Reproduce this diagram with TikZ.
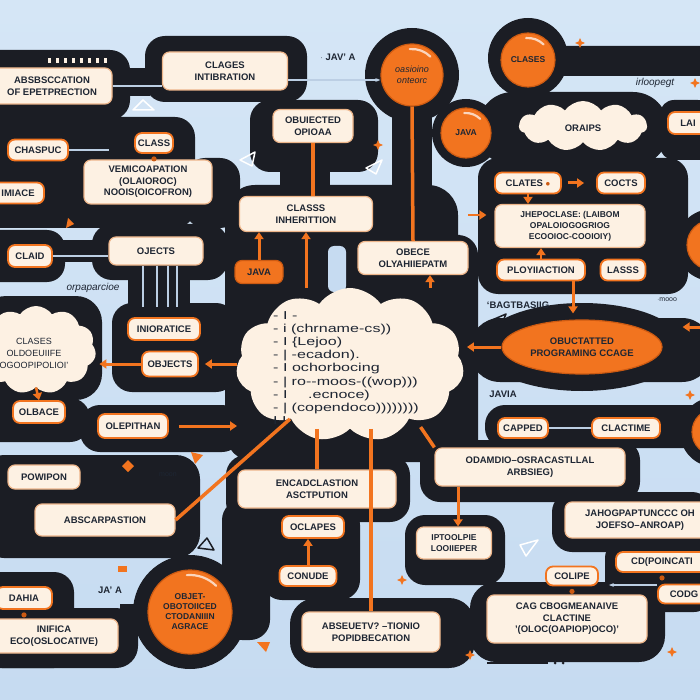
\documentclass[tikz,border=0pt]{standalone}
\usepackage{fontspec}
\setsansfont{Liberation Sans}
\usepackage{xcolor}
\usetikzlibrary{positioning, arrows.meta, shapes.symbols, shapes.geometric, backgrounds}
\definecolor{sky}{HTML}{C6DBF1}
\definecolor{skytop}{HTML}{D5E6F6}
\definecolor{ink}{HTML}{1B1D24}
\definecolor{cream}{HTML}{FDF1E3}
\definecolor{peach}{HTML}{EDB58A}
\definecolor{accent}{HTML}{F2741F}
\definecolor{accentdark}{HTML}{CC5A12}
\definecolor{textink}{HTML}{1E2633}
\definecolor{wire}{HTML}{BCCFE4}
\newcommand{\sparkle}[2]{%
  \fill[accent] (#1,#2) ++(0,-5) -- ++(1.5,3.5) -- ++(3.5,1.5) -- ++(-3.5,1.5)
    -- ++(-1.5,3.5) -- ++(-1.5,-3.5) -- ++(-3.5,-1.5) -- ++(3.5,-1.5) -- cycle;%
}

\begin{document}
\begin{tikzpicture}[
  x=1pt, y=-1pt,
  box/.style={rectangle, rounded corners=7pt, fill=cream, draw=peach, line width=1.2pt, align=center, text=textink, font=\sffamily\bfseries\fontsize{9.5}{11.5}\selectfont, inner sep=1pt},
  tag/.style={box, draw=accent, line width=1.8pt},
  jtag/.style={box, fill=accent, draw=accentdark},
  bubble/.style={circle, fill=accent, draw=accentdark, line width=1.2pt, align=center, text=textink, font=\sffamily\bfseries\fontsize{8.5}{10}\selectfont, inner sep=0pt},
  puff/.style={cloud, cloud puffs=11, cloud puff arc=110, fill=cream, draw=none, inner sep=0pt},
  pad/.style={fill=ink, rounded corners=20pt},
  link/.style={-{Triangle[length=7pt, width=9pt]}, line width=3pt, accent},
  oline/.style={line width=3.5pt, accent},
  wirelink/.style={line width=1.5pt, wire},
  lbl/.style={text=textink, font=\sffamily\bfseries\fontsize{9.5}{12}\selectfont}
]
\useasboundingbox (0,0) rectangle (700,700);
\shade[top color=skytop, bottom color=sky] (0,0) rectangle (700,700);

% ===== Dark channels =====
\fill[pad] (-20,50) rectangle (130,120);
\fill[ink] (125,68) rectangle (150,96);
\fill[pad] (145,36) rectangle (307,102);
\fill[pad] (-20,117) rectangle (195,228);
\fill[pad] (185,158) rectangle (240,228);
\fill[pad] (250,100) rectangle (378,172);
\fill[ink] (280,165) rectangle (330,190);
\fill[ink] (412,75) circle (47);
\fill[ink] (392,100) rectangle (432,200);
\fill[ink] (528,58) circle (40);
\fill[pad, rounded corners=12pt] (528,46) rectangle (712,76);
\fill[pad, rounded corners=35pt] (478,92) rectangle (668,166);
\fill[ink] (466,133) circle (34);
\fill[pad, rounded corners=14pt] (660,100) rectangle (712,160);
\fill[pad, rounded corners=30pt] (225,185) rectangle (458,462);
\fill[pad] (440,235) rectangle (478,462);
\fill[sky, rounded corners=6pt] (328,246) rectangle (346,292);
\fill[pad] (478,158) rectangle (688,294);
\fill[ink] (712,245) circle (36);
\fill[pad, rounded corners=30pt] (470,318) rectangle (712,382);
\fill[ink] (582,347) ellipse (102 and 44);
\fill[ink] (715,432) circle (35);
\fill[pad] (485,405) rectangle (712,448);
\fill[pad] (420,440) rectangle (640,502);
\fill[pad] (552,492) rectangle (712,552);
\fill[pad, rounded corners=18pt] (605,540) rectangle (712,612);
\fill[pad, rounded corners=26pt] (470,582) rectangle (665,662);
\fill[pad] (405,515) rectangle (505,585);
\fill[pad, rounded corners=26pt] (290,598) rectangle (475,668);
\fill[pad] (262,505) rectangle (360,600);
\fill[pad] (226,455) rectangle (410,522);
\fill[pad] (222,500) rectangle (270,640);
\fill[pad, rounded corners=18pt] (-20,230) rectangle (65,282);
\fill[ink] (60,240) rectangle (95,262);
\fill[pad] (92,224) rectangle (228,280);
\fill[ink] (128,270) rectangle (190,310);
\fill[pad, rounded corners=26pt] (-20,296) rectangle (102,400);
\fill[pad] (112,303) rectangle (236,392);
\fill[pad] (-20,398) rectangle (90,442);
\fill[pad] (80,405) rectangle (242,452);
\fill[pad, rounded corners=24pt] (-20,455) rectangle (200,558);
\fill[pad, rounded corners=20pt] (-20,572) rectangle (74,668);
\fill[pad, rounded corners=22pt] (-20,608) rectangle (138,668);
\fill[ink] (190,612) circle (57);
\fill[ink] (120,604) rectangle (150,634);

% ===== Clouds =====
\node[puff, aspect=1.5, minimum width=228pt, minimum height=154pt] (ccloud) at (350,365) {};
\node[puff, aspect=2.5, minimum width=128pt, minimum height=50pt] (orcloud) at (583,126) {};
\node[puff, aspect=1.3, minimum width=120pt, minimum height=88pt] (lcloud) at (36,350) {};
\node[lbl, align=left, transform shape, xscale=1.4, font=\sffamily\fontsize{11.5}{13.1}\selectfont] (code) at (346,368)
  {- I -\\- i (chrname-cs))\\- I \{Lejoo)\\- \textbar\ -ecadon).\\- I ochorbocing\\- \textbar\ ro-{}-moos-((wop)))\\- I \quad .ecnoce)\\- \textbar\ (copendoco))))))))\\I I};
\node[lbl] (oraips) at (583,128) {ORAIPS};
\node[lbl, align=center, font=\sffamily\fontsize{9}{12}\selectfont] (lclases) at (34,353) {CLASES\\OLDOEUIIFE\\OGOOPIPOLIOI'};

% ===== Boxes =====
\node[box, minimum width=120pt, minimum height=36pt] (abs) at (52,86) {ABSBSCCATION\\OF EPETPRECTION};
\node[box, minimum width=125pt, minimum height=38pt] (clint) at (225,71) {CLAGES\\INTIBRATION};
\node[box, minimum width=80pt, minimum height=33pt] (objd) at (313,126) {OBUIECTED\\OPIOAA};
\node[tag, minimum width=60pt, minimum height=21pt] (chaspuc) at (38,150) {CHASPUC};
\node[tag, minimum width=38pt, minimum height=20pt] (class) at (154,143) {CLASS};
\node[box, minimum width=128pt, minimum height=44pt] (vemi) at (148,182) {VEMICOAPATION\\(OLAIOROC)\\NOOIS(OICOFRON)};
\node[tag, minimum width=52pt, minimum height=21pt] (imiace) at (18,193) {IMIACE};
\node[tag, minimum width=44pt, minimum height=22pt] (claid) at (30,256) {CLAID};
\node[box, minimum width=94pt, minimum height=28pt] (objs1) at (156,251) {OJECTS};
\node[tag, minimum width=72pt, minimum height=22pt] (inio) at (164,329) {INIORATICE};
\node[tag, minimum width=56pt, minimum height=25pt] (objs2) at (170,364) {OBJECTS};
\node[tag, minimum width=52pt, minimum height=22pt] (olbace) at (39,412) {OLBACE};
\node[tag, minimum width=70pt, minimum height=24pt] (olep) at (133,426) {OLEPITHAN};
\node[box, minimum width=72pt, minimum height=24pt] (powi) at (44,477) {POWIPON};
\node[box, minimum width=140pt, minimum height=32pt] (abscar) at (105,520) {ABSCARPASTION};
\node[tag, minimum width=56pt, minimum height=22pt] (dahia) at (24,598) {DAHIA};
\node[box, minimum width=128pt, minimum height=34pt] (inifica) at (54,636) {INIFICA\\ECO(OSLOCATIVE)};
\node[box, minimum width=133pt, minimum height=35pt] (inherit) at (306,214) {CLASSS\\INHERITTION};
\node[jtag, minimum width=48pt, minimum height=23pt] (java2) at (259,272) {JAVA};
\node[box, minimum width=110pt, minimum height=33pt] (obece) at (413,258) {OBECE\\OLYAHIIEPATM};
\node[tag, minimum width=66pt, minimum height=21pt] (clates) at (528,183) {CLATES \textcolor{accentdark}{$\bullet$}};
\node[tag, minimum width=48pt, minimum height=21pt] (cocts) at (621,183) {COCTS};
\node[box, minimum width=150pt, minimum height=43pt, font=\sffamily\bfseries\fontsize{8.5}{11}\selectfont] (jhepo) at (570,226) {JHEPOCLASE: (LAIBOM\\OPALOIOGOGRIOG\\ECOOIOC-COOIOIY)};
\node[tag, minimum width=88pt, minimum height=21pt] (ploy) at (541,270) {PLOYIIACTION};
\node[tag, minimum width=45pt, minimum height=21pt] (lasss) at (623,270) {LASSS};
\node[tag, minimum width=40pt, minimum height=22pt] (lai) at (688,123) {LAI};
\node[box, minimum width=158pt, minimum height=38pt] (encad) at (317,489) {ENCADCLASTION\\ASCTPUTION};
\node[tag, minimum width=62pt, minimum height=22pt] (oclapes) at (313,527) {OCLAPES};
\node[tag, minimum width=57pt, minimum height=20pt] (conude) at (308,576) {CONUDE};
\node[box, minimum width=138pt, minimum height=40pt] (abseu) at (371,632) {ABSEUETV? --TIONIO\\POPIDBECATION};
\node[box, minimum width=75pt, minimum height=32pt, font=\sffamily\bfseries\fontsize{8.5}{10.5}\selectfont] (iptool) at (454,543) {IPTOOLPIE\\LOOIIEPER};
\node[box, minimum width=190pt, minimum height=38pt] (odam) at (530,467) {ODAMDIO--OSRACASTLLAL\\ARBSIEG)};
\node[tag, minimum width=50pt, minimum height=20pt] (capped) at (523,428) {CAPPED};
\node[tag, minimum width=68pt, minimum height=20pt] (clact) at (626,428) {CLACTIME};
\node[box, minimum width=150pt, minimum height=36pt] (jahog) at (640,520) {JAHOGPAPTUNCCC OH\\JOEFSO--ANROAP)};
\node[tag, minimum width=92pt, minimum height=20pt] (cdpoin) at (662,562) {CD(POINCATI};
\node[tag, minimum width=52pt, minimum height=19pt] (codg) at (684,594) {CODG};
\node[tag, minimum width=52pt, minimum height=19pt] (colipe) at (572,576) {COLIPE};
\node[box, minimum width=160pt, minimum height=48pt] (cag) at (567,619) {CAG CBOGMEANAIVE\\CLACTINE\\'(OLOC(OAPIOP)OCO)'};

% ===== Orange bubbles =====
\node[bubble, minimum size=62pt, font=\sffamily\itshape\fontsize{9}{11}\selectfont] (oop1) at (412,75) {oasioino\\onteorc};
\node[bubble, minimum size=54pt] (clases) at (528,60) {CLASES};
\node[bubble, minimum size=50pt] (java1) at (466,133) {JAVA};
\node[bubble, minimum size=84pt] (oop2) at (190,612) {OBJET-\\OBOTOIICED\\CTODANIIIN\\AGRACE};
\node[ellipse, fill=accent, draw=accentdark, line width=1.2pt, minimum width=160pt, minimum height=54pt] (oopce) at (582,347) {};
\node[lbl, align=center] (oopcetxt) at (oopce) {OBUCTATTED\\PROGRAMING CCAGE};
\node[bubble, minimum size=50pt] (edge1) at (712,245) {};
\node[bubble, minimum size=46pt] (edge2) at (715,432) {};
\foreach \n/\r in {oop1/31, clases/27, java1/25, oop2/42}
  \draw[white!70!accent, line width=2.2pt, line cap=round] (\n.center) ++(-95:\r-5) arc (-95:-45:\r-5);

% ===== Wires =====
\draw[wirelink] (abs.east) -- (abs.east -| clint.west);
\draw[wirelink, -{Stealth[length=5pt]}] ([yshift=-9pt]clint.east) -- ([yshift=-5pt]oop1.west);
\draw[wirelink, shorten >=25pt] (chaspuc.east) -- (chaspuc.east -| class.west);
\draw[wirelink] (claid.east) -- (claid.east -| objs1.west);
\foreach \dx in {-13,1,12,21}
  \draw[wirelink] ([xshift=\dx pt]objs1.south) -- ([xshift=\dx pt, yshift=10pt]objs1.south |- inio.north);
\draw[wirelink] (capped.east) -- (clact.west);
\draw[wirelink, -{Stealth[length=5pt]}] ([yshift=9pt]codg.west) -- ([yshift=-9pt, xshift=10pt]colipe.east);

% ===== Orange links =====
\draw[link] (java2.north) -- (java2.north |- inherit.south);
\draw[link] (inherit.south |- ccloud.north) -- (inherit.south);
\draw[oline] (objd.south) -- (objd.south |- inherit.north);
\draw[oline] (oop1.south) -- (obece.north);
\draw[link] ([xshift=17pt]obece.south |- ccloud.north) -- ([xshift=17pt]obece.south);
\draw[link, shorten <=6pt, shorten >=12pt] (clates.east) -- (cocts.west);
\draw[link, line width=2.5pt] (clates.south) -- (clates.south |- jhepo.north);
\draw[link, line width=2.5pt] (ploy.north) -- (ploy.north |- jhepo.south);
\coordinate (jhin) at (468,215);
\draw[link, line width=2.5pt, shorten >=8pt] (jhin) -- (jhin -| jhepo.west);
\draw[link] ([xshift=32pt]ploy.south) -- ([xshift=32pt, yshift=6pt]ploy.south |- oopce.north);
\draw[link, shorten >=4pt] (oopce.west) -- (oopce.west -| ccloud.east);
\coordinate (edgeR) at (712,327);
\draw[link, shorten >=20pt] (edgeR) -- (edgeR -| oopce.east);
\draw[link, shorten >=4pt] (objs2.west) -- (objs2.west -| lcloud.east);
\draw[link, shorten >=6pt] (objs2.east -| ccloud.west) -- (objs2.east);
\draw[link, line width=2.5pt] (lcloud.south) -- (olbace.north);
\draw[link, shorten <=10pt] (olep.east) -- (olep.east -| ccloud.west);
\draw[oline] (abscar.east) -- (ccloud.222);
\draw[oline] (encad.north |- ccloud.south) -- (encad.north);
\draw[oline] (abseu.north |- ccloud.south) -- (abseu.north);
\draw[link] (conude.north) -- (conude.north |- oclapes.south);
\draw[oline, shorten <=8pt] (ccloud.-40) -- (odam.north west);
\draw[link] ([xshift=-72pt]odam.south) -- ([xshift=-72pt]odam.south |- iptool.north);
\foreach \n in {class, colipe, cdpoin, dahia}
  \fill[accentdark] ([yshift=-5pt]\n.south) circle (2.6);

% ===== Loose labels =====
\node[lbl] (javtxt) at (338,57) {$\cdot$\ JAV' A};
\node[lbl, font=\sffamily\itshape\fontsize{10}{12}\selectfont] (irl) at (655,83) {irloopegt};
\node[lbl, font=\sffamily\itshape\fontsize{10}{12}\selectfont] (orpa) at (93,288) {orpaparcioe};
\node[lbl] (bagt) at (518,305) {`BAGTBASIIG};
\node[lbl] (javia) at (503,394) {JAVIA};
\node[lbl] (jaa) at (110,590) {JA' A};
\node[lbl, font=\sffamily\fontsize{7}{8}\selectfont] (moon) at (168,475) {moon};
\node[lbl, font=\sffamily\fontsize{7}{8}\selectfont] (mooo) at (667,300) {$\cdot$mooo};

% ===== Decorations =====
\foreach \x in {48,56,...,104} \fill[cream] (\x,58) rectangle ++(3,5);
\foreach \sx/\sy in {378/145, 580/43, 695/83, 470/655, 672/652, 690/395, 402/580}
  \sparkle{\sx}{\sy};
\fill[accent] (128,460) -- (134,466) -- (128,472) -- (122,466) -- cycle;
\fill[accent] (191,452) -- (203,455) -- (195,464) -- cycle;
\fill[accent] (257,642) -- (270,642) -- (266,652) -- cycle;
\fill[accent] (68,218) -- (74,224) -- (66,228) -- cycle;
\fill[accent] (118,566) rectangle (127,572);
\draw[white, line width=1.5pt, line join=round] (133,110) -- (143,100) -- (154,110) -- cycle;
\draw[white, line width=1.5pt, line join=round] (240,160) -- (255,152) -- (252,166) -- cycle;
\draw[white, line width=1.5pt, line join=round] (366,168) -- (382,160) -- (376,174) -- cycle;
\draw[ink, line width=1.5pt, line join=round] (492,320) -- (506,314) -- (500,328) -- cycle;
\draw[white, line width=1.5pt, line join=round] (520,545) -- (538,540) -- (526,556) -- cycle;
\draw[ink, line width=1.5pt, line join=round] (198,548) -- (207,538) -- (214,550) -- cycle;
\draw[ink, line width=2.5pt] (487,663) -- (548,663);
\fill[ink] (555,663) circle (1.5) (563,663) circle (1.5);
\end{tikzpicture}
\end{document}
